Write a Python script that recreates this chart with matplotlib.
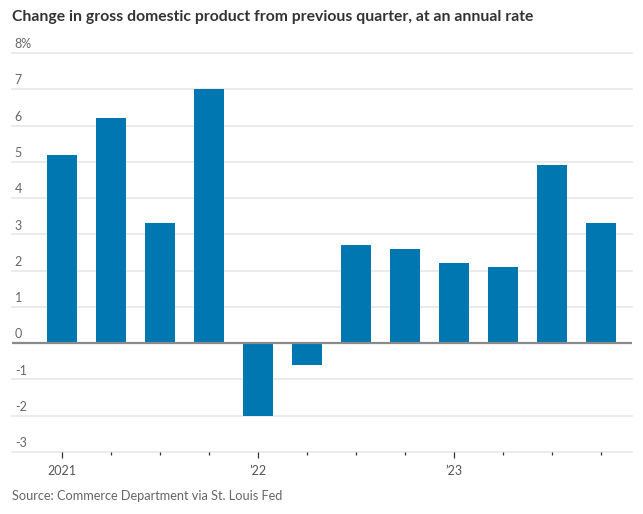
import numpy as np
import matplotlib.pyplot as plt

plt.rcParams['font.family'] = ['Lato', 'DejaVu Sans']

# quarterly change in GDP, annual rate, 2021 Q1 to 2023 Q4
quarters = ['2021Q1', '2021Q2', '2021Q3', '2021Q4',
            '2022Q1', '2022Q2', '2022Q3', '2022Q4',
            '2023Q1', '2023Q2', '2023Q3', '2023Q4']
gdp_change = [5.2, 6.2, 3.3, 7.0, -2.0, -0.6, 2.7, 2.6, 2.2, 2.1, 4.9, 3.3]
y_ticks = [-3, -2, -1, 0, 1, 2, 3, 4, 5, 6, 7, 8]
y_labels = ['-3', '-2', '-1', '0', '1', '2', '3', '4', '5', '6', '7', '8%']
year_labels = {0: '2021', 4: '\u201922', 8: '\u201923'}

fig = plt.figure(figsize=(6.43, 5.14), dpi=100)
ax = fig.add_axes([12 / 643, 62 / 514, 620 / 643, 399 / 514])

x = np.arange(len(quarters))
ax.bar(x, gdp_change, width=0.61, color='#0077b0', zorder=3)

ax.set_ylim(-3, 8)
ax.set_xlim(-1.02, 11.63)
for v in y_ticks:
    if v == 0:
        ax.axhline(0, color='#8a8a8a', lw=1.6, zorder=4)
    else:
        ax.axhline(v, color='#e8e8e8', lw=1.2, zorder=1, clip_on=False)
for v, lab in zip(y_ticks, y_labels):
    ax.annotate(lab, xy=(0, v), xycoords=('axes fraction', 'data'),
                xytext=(2, 2), textcoords='offset points',
                ha='left', va='bottom', fontsize=9, color='#666666')

for s in ax.spines.values():
    s.set_visible(False)
ax.set_yticks([])

ax.set_xticks(x)
ax.set_xticklabels([year_labels.get(i, '') for i in x], fontsize=9, color='#555555')
ax.tick_params(axis='x', length=2.5, width=0.9, color='#333333', pad=7)
for i, t in enumerate(ax.xaxis.get_major_ticks()):
    if i in year_labels:
        t.tick1line.set_markersize(4.5)

fig.text(12 / 643, 1 - 17 / 514, 'Change in gross domestic product from previous quarter, at an annual rate',
         fontsize=11.3, fontweight='bold', color='#333333', va='center', ha='left')
fig.text(12 / 643, 1 - 496 / 514, 'Source: Commerce Department via St. Louis Fed',
         fontsize=9.2, color='#666666', va='center', ha='left')

fig.savefig('out.png', dpi=100)
